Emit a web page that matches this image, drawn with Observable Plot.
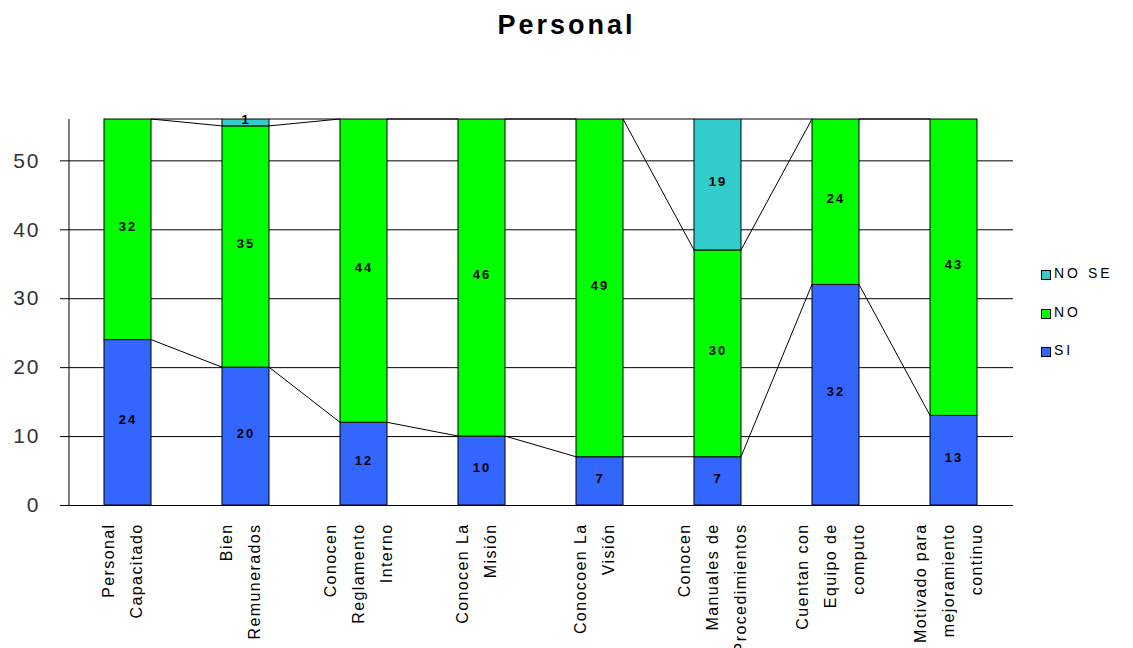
<!DOCTYPE html>
<html>
<head>
<meta charset="utf-8">
<script src="https://cdn.jsdelivr.net/npm/d3@7"></script>
<script src="https://cdn.jsdelivr.net/npm/@observablehq/plot@0.6"></script>
<style>
  body { margin: 0; background: #fff; font-family: "Liberation Sans", Arial, sans-serif; }
  #wrap { position: relative; width: 1133px; height: 648px; overflow: hidden; background: #fff; }
  #title { position: absolute; top: 12px; left: 0; width: 1133px; text-align: center; font-weight: bold; font-size: 27px; line-height: 27px; letter-spacing: 3px; color: #000; }
  #chart { position: absolute; top: 60px; left: 0; }
  #legend { position: absolute; left: 1041px; top: 266px; }
  .item { position: relative; height: 38.5px; font-size: 14px; line-height: 14px; letter-spacing: 3px; color: #000; }
  .sw { position: absolute; left: 0; top: 4px; width: 8px; height: 8px; border: 1px solid #000; }
  .lb { position: absolute; left: 13px; top: 0; white-space: nowrap; }
  #chart svg g[aria-label="x-axis tick label"] text { letter-spacing: 1.4px; }
  #chart svg g[aria-label="y-axis tick label"] text { letter-spacing: 2px; fill: #333; }
  #chart svg g[aria-label="text"] text { letter-spacing: 2px; }
</style>
</head>
<body>
<div id="wrap">
  <div id="title">Personal</div>
  <div id="chart"></div>
  <div id="legend"></div>
</div>
<script>
const categories = [
  "Personal\nCapacitado",
  "Bien\nRemunerados",
  "Conocen\nReglamento\nInterno",
  "Conocen La\nMisión",
  "Conocoen La\nVisión",
  "Conocen\nManuales de\nProcedimientos",
  "Cuentan con\nEquipo de\ncomputo",
  "Motivado para\nmejoramiento\ncontinuo"
];
const seriesNames = ["SI", "NO", "NO SE"];
const siValues   = [24, 20, 12, 10, 7, 7, 32, 13];
const noValues   = [32, 35, 44, 46, 49, 30, 24, 43];
const noseValues = [0, 1, 0, 0, 0, 19, 0, 0];
const seriesColors = ["#3366ff", "#00ff00", "#33cccc"];
const yTicks = [0, 10, 20, 30, 40, 50];
const yMax = 56;

const seriesValues = [siValues, noValues, noseValues];
const data = categories.flatMap((cat, i) =>
  seriesNames.map((serie, k) => ({cat, serie, value: seriesValues[k][i]}))
);

// Excel-style series lines joining the top of each stacked segment between adjacent bars
function seriesLines(index, scales) {
  const x = scales.x, y = scales.y;
  const bw = typeof x.bandwidth === "function" ? x.bandwidth() : x.bandwidth;
  const g = d3.create("svg:g").attr("stroke", "#000").attr("stroke-width", 1).attr("fill", "none");
  const tops = categories.map((c, i) => {
    let s = 0;
    return seriesNames.map((_, k) => (s += seriesValues[k][i]));
  });
  for (let i = 0; i < categories.length - 1; i++) {
    for (let k = 0; k < seriesNames.length; k++) {
      g.append("line")
        .attr("x1", x(categories[i]) + bw)
        .attr("x2", x(categories[i + 1]))
        .attr("y1", y(tops[i][k]))
        .attr("y2", y(tops[i + 1][k]));
    }
  }
  // vertical axis line
  const r = x.range();
  g.append("line")
    .attr("x1", r[0]).attr("x2", r[0])
    .attr("y1", y(0)).attr("y2", y(yMax));
  return g.node();
}

const chart = Plot.plot({
  width: 1133,
  height: 588,
  marginTop: 59,
  marginBottom: 143,
  marginLeft: 69,
  marginRight: 120,
  style: {fontFamily: "Liberation Sans, Arial, sans-serif", background: "#fff", overflow: "visible"},
  x: {domain: categories, paddingInner: 0.6, paddingOuter: 0.29, axis: null},
  y: {domain: [0, yMax], axis: null},
  color: {domain: seriesNames, range: seriesColors},
  marks: [
    Plot.ruleY(yTicks, {stroke: "#000", strokeWidth: 1}),
    Plot.axisY({ticks: yTicks, tickSize: 9, tickPadding: 20, fontSize: 21, label: null, stroke: "#000"}),
    Plot.axisX({tickSize: 0, tickPadding: 18, tickRotate: -90, fontSize: 16, lineHeight: 1.75, label: null, dx: -9}),
    seriesLines,
    Plot.barY(data, {x: "cat", y: "value", fill: "serie", stroke: "#000", strokeWidth: 1, filter: d => d.value > 0}),
    Plot.text(data, Plot.stackY({x: "cat", y: "value", z: "serie", text: d => String(d.value), filter: d => d.value > 0, fontSize: 13, fontWeight: "bold", fill: "#000", dy: -3}))
  ]
});
document.getElementById("chart").appendChild(chart);

// legend (top to bottom: NO SE, NO, SI)
const legend = document.getElementById("legend");
[...seriesNames].reverse().forEach(name => {
  const item = document.createElement("div");
  item.className = "item";
  const sw = document.createElement("div");
  sw.className = "sw";
  sw.style.background = seriesColors[seriesNames.indexOf(name)];
  const lb = document.createElement("div");
  lb.className = "lb";
  lb.textContent = name;
  item.appendChild(sw);
  item.appendChild(lb);
  legend.appendChild(item);
});
</script>
</body>
</html>
